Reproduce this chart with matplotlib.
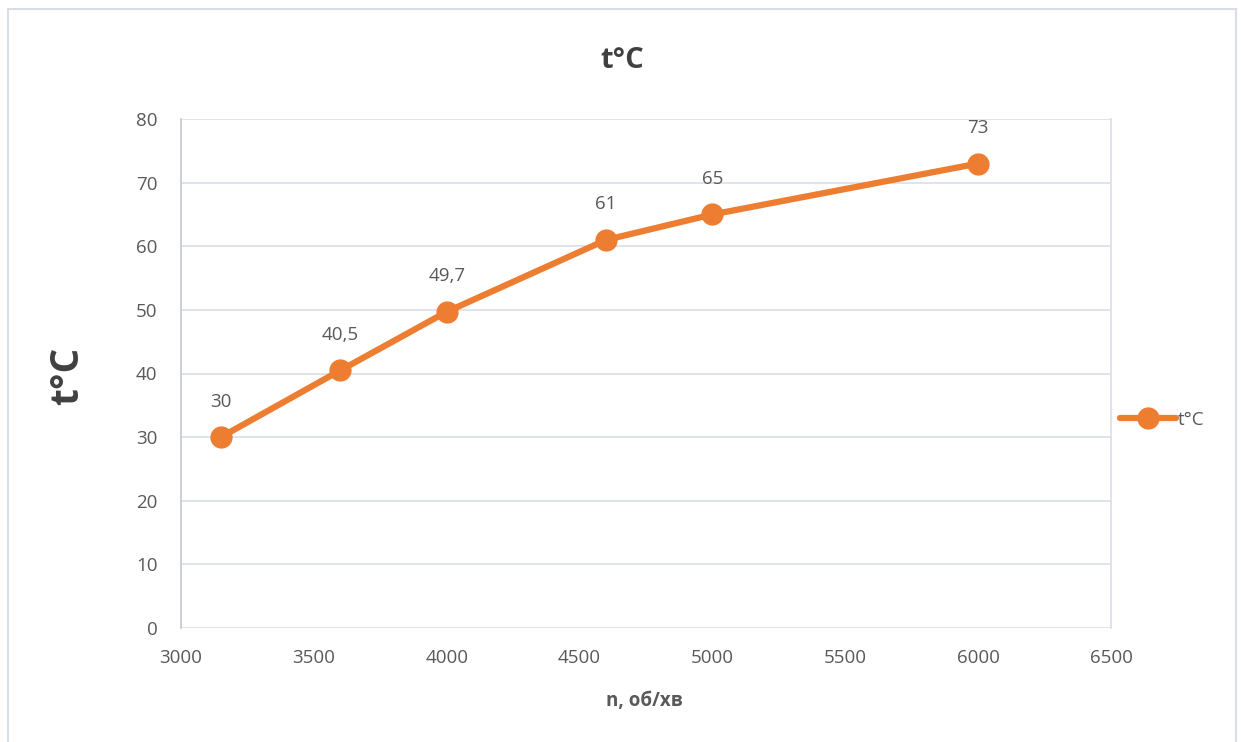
import matplotlib
matplotlib.use("Agg")
import matplotlib.pyplot as plt
from matplotlib.patches import Rectangle

plt.rcParams['font.family'] = ['Open Sans', 'DejaVu Sans']

rpm = [3150, 3600, 4000, 4600, 5000, 6000]
temp = [30, 40.5, 49.7, 61, 65, 73]
labels = ["30", "40,5", "49,7", "61", "65", "73"]
x_ticks = [3000, 3500, 4000, 4500, 5000, 5500, 6000, 6500]
y_ticks = [0, 10, 20, 30, 40, 50, 60, 70, 80]

orange = "#ED7D31"
grid = "#D9DEE8"
txt = "#595959"

fig = plt.figure(figsize=(12.41, 7.42), dpi=100)
fig.patches.append(Rectangle((8/1241, -0.05), 1228/1241, 1.05 - 9/742, transform=fig.transFigure,
                             fill=False, edgecolor="#D9DEE6", linewidth=1.5))
ax = fig.add_axes([181/1241, 1 - 628/742, 930/1241, 509/742])

ax.plot(rpm, temp, color=orange, linewidth=4.5, marker='o', markersize=15,
        solid_capstyle='round', label="t°C", zorder=3)
for x, y, s in zip(rpm, temp, labels):
    ax.annotate(s, (x, y), xytext=(0, 19), textcoords='offset points',
                ha='center', va='bottom', fontsize=13.5, color=txt)

ax.set_xlim(3000, 6500)
ax.set_ylim(0, 80)
ax.set_xticks(x_ticks)
ax.set_yticks(y_ticks)
ax.tick_params(axis='both', length=0, labelsize=13.5, labelcolor=txt)
ax.tick_params(axis='x', pad=15)
ax.tick_params(axis='y', pad=17)
ax.yaxis.grid(True, color=grid, linewidth=1.2)
ax.set_axisbelow(True)
for side in ['top', 'bottom']:
    ax.spines[side].set_visible(False)
ax.spines['right'].set_color(grid)
ax.spines['right'].set_linewidth(1.2)
ax.spines['left'].set_color("#BFC8D6")
ax.spines['left'].set_linewidth(1.2)

fig.text(622/1241, 1 - 61/742, "t°C", ha='center', va='center', fontsize=21,
         fontweight='bold', color="#404040")
fig.text(68/1241, 1 - 376/742, "t°C", ha='center', va='center', fontsize=28,
         fontweight='bold', color="#404040", rotation=90)
fig.text(644/1241, 1 - 701/742, "n, об/хв", ha='center', va='center', fontsize=13.5,
         fontweight='bold', color=txt)

fig.legend(loc='center left', bbox_to_anchor=(1120/1241, 1 - 420/742), frameon=False,
           fontsize=13.5, labelcolor=txt, handlelength=3.0, handletextpad=0.1,
           borderaxespad=0, borderpad=0)

fig.savefig("out.png", dpi=100, facecolor="white")
